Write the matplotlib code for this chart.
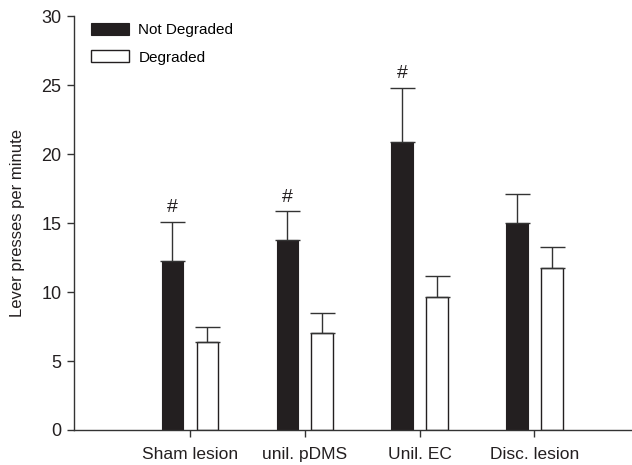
import matplotlib
matplotlib.use("Agg")
import matplotlib.pyplot as plt
import numpy as np

plt.rcParams["font.family"] = ["Liberation Sans", "DejaVu Sans"]

categories = ["Sham lesion", "unil. pDMS", "Unil. EC", "Disc. lesion"]
not_degraded = [12.25, 13.8, 20.9, 15.0]
not_degraded_err = [2.85, 2.05, 3.9, 2.1]
degraded = [6.35, 7.05, 9.65, 11.75]
degraded_err = [1.15, 1.45, 1.5, 1.55]
significant = [True, True, True, False]

BAR_COLOR = "#231f20"
EDGE_COLOR = "#231f20"

fig = plt.figure(figsize=(6.32, 4.65), dpi=100)
ax = fig.add_axes([0.117, 0.0753, 0.883, 0.890])

x = np.arange(len(categories))
width = 0.187
offset = 0.152

err_style = {"ecolor": "#333333", "elinewidth": 1.0, "capsize": 9, "capthick": 1.0}

ax.bar(x - offset, not_degraded, width, color=BAR_COLOR, edgecolor=EDGE_COLOR,
       linewidth=0.8, label="Not Degraded",
       yerr=[np.zeros(len(x)), not_degraded_err], error_kw=err_style, zorder=2)
ax.bar(x + offset, degraded, width, color="white", edgecolor=EDGE_COLOR,
       linewidth=1.0, label="Degraded",
       yerr=[np.zeros(len(x)), degraded_err], error_kw=err_style, zorder=2)

# significance markers over the not-degraded bars
for i, flag in enumerate(significant):
    if flag:
        top = not_degraded[i] + not_degraded_err[i]
        ax.text(x[i] - offset, top + 0.4, "#", ha="center", va="bottom",
                fontsize=14, color="#231f20")

ax.set_xlim(-1.01, 3.85)
ax.set_ylim(0, 30)
ax.set_yticks(range(0, 31, 5))
ax.set_xticks(x)
ax.set_xticklabels(categories)
ax.set_ylabel("Lever presses per minute", fontsize=12, color="#231f20", labelpad=12)

for side in ["top", "right"]:
    ax.spines[side].set_visible(False)
for side in ["left", "bottom"]:
    ax.spines[side].set_color("#333333")
    ax.spines[side].set_linewidth(1.0)

ax.tick_params(axis="y", direction="out", length=5, width=1.0, labelsize=13,
               colors="#333333", labelcolor="#231f20", pad=4)
ax.tick_params(axis="x", direction="out", length=5, width=1.0, labelsize=12.5,
               colors="#333333", labelcolor="#231f20", pad=7)

ax.legend(loc="upper left", bbox_to_anchor=(0.006, 1.017), frameon=False,
          fontsize=11, handlelength=2.5, handleheight=0.85, labelspacing=0.85,
          handletextpad=0.6)

fig.savefig("out.png", dpi=100)
